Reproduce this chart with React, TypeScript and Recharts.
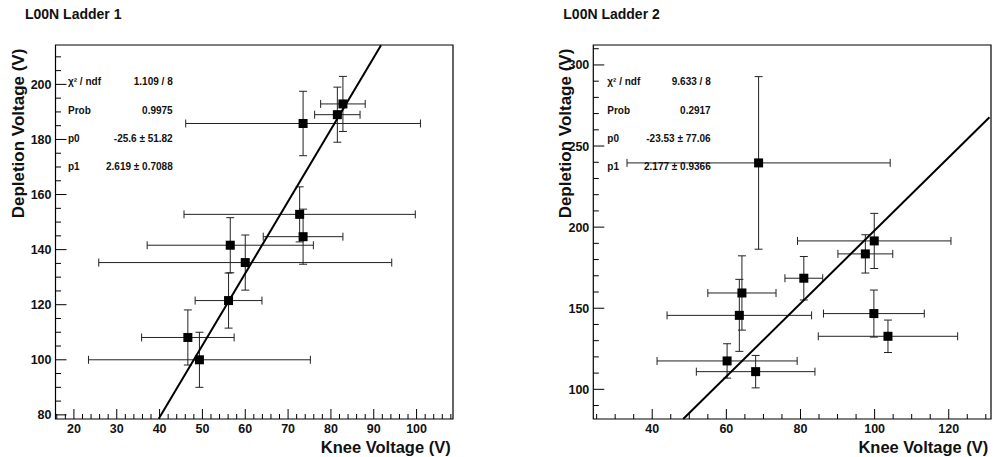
import { ComposedChart, Scatter, ErrorBar, XAxis, YAxis, ReferenceLine, ReferenceArea } from 'recharts'

// L00N Ladder 1
const l1Knee = [73.5, 82.8, 81.5, 72.7, 73.5, 56.5, 60.0, 56.1, 46.6, 49.3]
const l1KneeErr = [27.4, 5.2, 5.3, 27.0, 9.3, 19.4, 34.2, 7.8, 10.8, 25.9]
const l1Depl = [185.8, 192.9, 189.0, 152.8, 144.7, 141.6, 135.3, 121.5, 108.1, 100.0]
const l1DeplErr = [11.7, 10, 10, 10, 10, 10, 10, 10, 10, 10]
const l1FitX = [39.8, 91.7]
const l1FitY = [78.6, 214.2]
const l1XLabels = [20, 30, 40, 50, 60, 70, 80, 90, 100]
const l1YLabels = [80, 100, 120, 140, 160, 180, 200]
const l1Stats = [
  ['χ² / ndf', '1.109 / 8'],
  ['Prob', '0.9975'],
  ['p0', '-25.6 ± 51.82'],
  ['p1', '2.619 ± 0.7088'],
]

// L00N Ladder 2
const l2Knee = [68.7, 99.9, 97.5, 80.9, 64.2, 63.5, 99.8, 103.6, 60.2, 67.9]
const l2KneeErr = [35.5, 20.7, 7.4, 5.1, 9.2, 19.5, 13.6, 18.8, 18.9, 16.0]
const l2Depl = [239.6, 191.5, 183.5, 168.5, 159.4, 145.6, 146.7, 132.7, 117.5, 110.9]
const l2DeplErr = [53.2, 17, 11.8, 13.4, 22.9, 22.2, 14.5, 10, 10.6, 10]
const l2FitX = [48.35, 131.0]
const l2FitY = [81.7, 267.8]
const l2XLabels = [40, 60, 80, 100, 120]
const l2YLabels = [100, 150, 200, 250, 300]
const l2Stats = [
  ['χ² / ndf', '9.633 / 8'],
  ['Prob', '0.2917'],
  ['p0', '-23.53 ± 77.06'],
  ['p1', '2.177 ± 0.9366'],
]

const FONT = '"Liberation Sans", Arial, Helvetica, sans-serif'

// all minor tick positions between lo and hi with given step
function range(lo: number, hi: number, step: number) {
  const out: number[] = []
  for (let v = Math.ceil(lo / step) * step; v <= hi; v += step) out.push(v)
  return out
}

function XTick(props: any) {
  const { x, y, payload, majors } = props
  const major = majors.includes(payload.value)
  return (
    <g>
      <line x1={x} x2={x} y1={y} y2={y - (major ? 10 : 5)} stroke="#000" strokeWidth={1} />
      {major && (
        <text x={x} y={y + 14} textAnchor="middle" fontFamily={FONT} fontWeight="bold" fontSize={12.5} fill="#111">
          {payload.value}
        </text>
      )}
    </g>
  )
}

function YTick(props: any) {
  const { x, y, payload, majors } = props
  const major = majors.includes(payload.value)
  return (
    <g>
      <line x1={x} x2={x + (major ? 11 : 5.5)} y1={y} y2={y} stroke="#000" strokeWidth={1} />
      {major && (
        <text x={x - 4} y={y + 4.5} textAnchor="end" fontFamily={FONT} fontWeight="bold" fontSize={12.5} fill="#111">
          {payload.value}
        </text>
      )}
    </g>
  )
}

const Square = (props: any) => {
  const { cx, cy } = props
  if (cx == null || cy == null) return null
  return <rect x={cx - 4.5} y={cy - 4.5} width={9} height={9} fill="#000" />
}

type PanelProps = {
  left: number
  width: number
  yAxisWidth: number
  marginRight: number
  knee: number[]
  kneeErr: number[]
  depl: number[]
  deplErr: number[]
  fitX: number[]
  fitY: number[]
  xDomain: [number, number]
  yDomain: [number, number]
  xLabels: number[]
  yLabels: number[]
  xMinorStep: number
  yMinorStep: number
}

function Panel(p: PanelProps) {
  const data = p.knee.map((k, i) => ({ x: k, y: p.depl[i], ex: p.kneeErr[i], ey: p.deplErr[i] }))
  const xTicks = range(p.xDomain[0], p.xDomain[1], p.xMinorStep)
  const yTicks = range(p.yDomain[0], p.yDomain[1], p.yMinorStep)
  return (
    <div style={{ position: 'absolute', left: p.left, top: 0 }}>
      <ComposedChart width={p.width} height={457} margin={{ top: 45, right: p.marginRight, bottom: 0, left: 0 }}>
        <XAxis
          type="number"
          dataKey="x"
          domain={p.xDomain}
          allowDataOverflow
          ticks={xTicks}
          interval={0}
          height={38}
          axisLine={false}
          tickLine={false}
          tickSize={0}
          tickMargin={0}
          tick={(t: any) => <XTick {...t} majors={p.xLabels} />}
        />
        <YAxis
          type="number"
          dataKey="y"
          domain={p.yDomain}
          allowDataOverflow
          ticks={yTicks}
          interval={0}
          width={p.yAxisWidth}
          axisLine={false}
          tickLine={false}
          tickSize={0}
          tickMargin={0}
          tick={(t: any) => <YTick {...t} majors={p.yLabels} />}
        />
        <ReferenceArea
          x1={p.xDomain[0]}
          x2={p.xDomain[1]}
          y1={p.yDomain[0]}
          y2={p.yDomain[1]}
          fill="none"
          fillOpacity={0}
          stroke="#000"
          strokeWidth={1.2}
          ifOverflow="visible"
        />
        <Scatter data={data} shape={Square} isAnimationActive={false}>
          <ErrorBar dataKey="ex" direction="x" width={4} stroke="#222" strokeWidth={1} isAnimationActive={false} />
          <ErrorBar dataKey="ey" direction="y" width={4} stroke="#222" strokeWidth={1} isAnimationActive={false} />
        </Scatter>
        <ReferenceLine
          segment={[
            { x: p.fitX[0], y: p.fitY[0] },
            { x: p.fitX[1], y: p.fitY[1] },
          ]}
          stroke="#000"
          strokeWidth={2}
          ifOverflow="visible"
        />
      </ComposedChart>
    </div>
  )
}

function Stats({ rows, labelX, valueX }: { rows: string[][]; labelX: number; valueX: number }) {
  const baselines = [85.4, 113.7, 141.7, 169.7]
  return (
    <g fontFamily={FONT} fontWeight="bold" fontSize={10} fill="#111">
      {rows.map((r, i) => (
        <g key={i}>
          <text x={labelX} y={baselines[i]}>{r[0]}</text>
          <text x={valueX} y={baselines[i]} textAnchor="end">{r[1]}</text>
        </g>
      ))}
    </g>
  )
}

export default function App() {
  return (
    <div style={{ position: 'absolute', left: 0, top: 0, width: 993, height: 457, background: '#fff', overflow: 'hidden' }}>
      <Panel
        left={0}
        width={500}
        yAxisWidth={55.5}
        marginRight={47}
        knee={l1Knee}
        kneeErr={l1KneeErr}
        depl={l1Depl}
        deplErr={l1DeplErr}
        fitX={l1FitX}
        fitY={l1FitY}
        xDomain={[15.7, 108.5]}
        yDomain={[78.5, 214.3]}
        xLabels={l1XLabels}
        yLabels={l1YLabels}
        xMinorStep={2}
        yMinorStep={5}
      />
      <Panel
        left={500}
        width={493}
        yAxisWidth={93.3}
        marginRight={2}
        knee={l2Knee}
        kneeErr={l2KneeErr}
        depl={l2Depl}
        deplErr={l2DeplErr}
        fitX={l2FitX}
        fitY={l2FitY}
        xDomain={[24.1, 131.4]}
        yDomain={[81.7, 312.3]}
        xLabels={l2XLabels}
        yLabels={l2YLabels}
        xMinorStep={5}
        yMinorStep={10}
      />
      <svg width={993} height={457} style={{ position: 'absolute', left: 0, top: 0, pointerEvents: 'none' }}>
        <g fontFamily={FONT} fontWeight="bold" fill="#111">
          <text x={25} y={19} fontSize={14}>L00N Ladder 1</text>
          <text x={563.3} y={19} fontSize={14}>L00N Ladder 2</text>
          <text x={24} y={133.5} fontSize={17} textAnchor="middle" transform="rotate(-90 24 133.5)">Depletion Voltage (V)</text>
          <text x={571} y={133.5} fontSize={17} textAnchor="middle" transform="rotate(-90 571 133.5)">Depletion Voltage (V)</text>
          <text x={450.7} y={453} fontSize={16.5} textAnchor="end">Knee Voltage (V)</text>
          <text x={988.3} y={453} fontSize={16.5} textAnchor="end">Knee Voltage (V)</text>
        </g>
        <Stats rows={l1Stats} labelX={68} valueX={172.7} />
        <Stats rows={l2Stats} labelX={607.3} valueX={710.7} />
      </svg>
    </div>
  )
}
